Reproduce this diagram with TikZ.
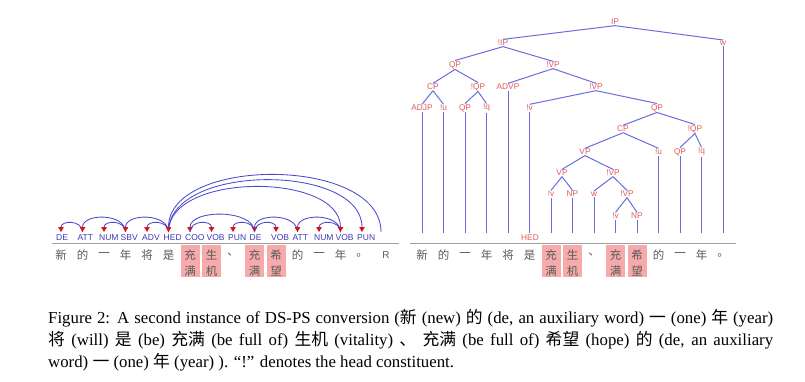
\documentclass[tikz,border=0pt]{standalone}
\usepackage{fontspec}
\setmainfont{Liberation Serif}
\newfontfamily\labfont{Liberation Sans}
\newfontfamily\cjk{Noto Sans CJK SC}
\usetikzlibrary{arrows.meta}
\definecolor{arcblue}{HTML}{4A4ACF}
\definecolor{labblue}{HTML}{3A3AB0}
\definecolor{tipred}{HTML}{E01010}
\definecolor{treered}{HTML}{E05A5A}
\definecolor{treeblue}{HTML}{6B6BE0}
\definecolor{pinkbg}{HTML}{F6AAAA}
\definecolor{wordgray}{HTML}{5A5A5A}
\definecolor{basegray}{HTML}{A0A0A0}
\begin{document}
\begin{tikzpicture}[x=1pt,y=-1pt,
  dlab/.style={font=\labfont\fontsize{8.5}{9}\selectfont, text=labblue, inner sep=0pt, anchor=west},
  tlab/.style={font=\labfont\fontsize{8.3}{9}\selectfont, text=treered, inner sep=0.6pt},
  word/.style={font=\cjk\fontsize{11.5}{11.5}\selectfont, text=wordgray, inner sep=0pt},
  darc/.style={draw=arcblue, line width=0.85pt, -{Triangle[width=5.5pt,length=5pt,color=tipred]}},
  tline/.style={draw=treeblue, line width=1pt},
  baseline/.style={draw=basegray, line width=0.7pt},
  capline/.style={anchor=base west, inner sep=0pt, font=\fontsize{16.8}{20}\selectfont},
]
\useasboundingbox (0,0) rectangle (805,382);

% ---------- left: dependency structure ----------
\draw[baseline] (52,243) -- (399,243);
\foreach \i/\c in {1/新,2/的,3/一,4/年,5/将,6/是,9/、,12/的,13/一,14/年,15/。}
  \node[word] (lw\i) at ({61+21.5*(\i-1)},255) {\c};
\foreach \i/\a/\b in {7/充/满,8/生/机,10/充/满,11/希/望}{
  \fill[pinkbg] ({61+21.5*(\i-1)-9.5},245) rectangle ++(19,32);
  \node[word] (lw\i) at ({61+21.5*(\i-1)},255) {\a};
  \node[word] (lwb\i) at ({61+21.5*(\i-1)},271) {\b};
}
\node[word, font=\labfont\fontsize{10}{10}\selectfont] (lw16) at (386,255) {R};

\foreach \i/\t in {1/DE,2/ATT,3/NUM,4/SBV,5/ADV,6/HED,7/COO,8/VOB,9/PUN,10/DE,11/VOB,12/ATT,13/NUM,14/VOB,15/PUN}
  \node[dlab] (dl\i) at ({61+21.5*(\i-1)-5},237.5) {\t};
\foreach \i in {1,...,16}
  \coordinate (a\i) at ({61+21.5*(\i-1)},232);
\coordinate (a16) at (381,232);

\foreach \h/\d/\k in {2/1/12,4/2/19,4/3/12,6/4/19,6/5/12,10/7/23,7/8/12,10/9/12,12/10/19,10/11/12,14/12/19,14/13/12,6/14/60,6/15/69,16/6/76}
  \draw[darc] (a\h) .. controls +(0,-\k) and +(0,-\k) .. (a\d);

% ---------- right: phrase structure ----------
\draw[baseline] (410,243) -- (736,243);
\foreach \i/\c in {1/新,2/的,3/一,4/年,5/将,6/是,9/、,12/的,13/一,14/年,15/。}
  \node[word] (rw\i) at ({422+21.5*(\i-1)},255) {\c};
\foreach \i/\a/\b in {7/充/满,8/生/机,10/充/满,11/希/望}{
  \fill[pinkbg] ({422+21.5*(\i-1)-9.5},245) rectangle ++(19,32);
  \node[word] (rw\i) at ({422+21.5*(\i-1)},255) {\a};
  \node[word] (rwb\i) at ({422+21.5*(\i-1)},271) {\b};
}

\node[tlab] (IP)   at (615,22)  {IP};
\node[tlab] (w1)   at (723,43)  {w};
\node[tlab] (bIP)  at (503,43)  {!IP};
\node[tlab] (QPa)  at (455,65)  {QP};
\node[tlab] (bVPa) at (553,65)  {!VP};
\node[tlab] (CPa)  at (433,87)  {CP};
\node[tlab] (bQPa) at (478,87)  {!QP};
\node[tlab] (ADVP) at (508,87)  {ADVP};
\node[tlab] (bVPb) at (596,87)  {!VP};
\node[tlab] (ADJP) at (422,108) {ADJP};
\node[tlab] (bua)  at (443.5,108) {!u};
\node[tlab] (QPb)  at (465,108) {QP};
\node[tlab] (bqa)  at (486.5,108) {!q};
\node[tlab] (bva)  at (529.5,108) {!v};
\node[tlab] (QPc)  at (657,108) {QP};
\node[tlab] (CPb)  at (623,129) {CP};
\node[tlab] (bQPb) at (695,129) {!QP};
\node[tlab] (VPa)  at (585,152) {VP};
\node[tlab] (bub)  at (658.5,152) {!u};
\node[tlab] (QPd)  at (680,152) {QP};
\node[tlab] (bqb)  at (701.5,152) {!q};
\node[tlab] (VPb)  at (562,173) {VP};
\node[tlab] (bVPc) at (613,173) {!VP};
\node[tlab] (bvb)  at (551,194) {!v};
\node[tlab] (NPa)  at (572.5,194) {NP};
\node[tlab] (w2)   at (594,194) {w};
\node[tlab] (bVPd) at (627,194) {!VP};
\node[tlab] (bvc)  at (615.5,216) {!v};
\node[tlab] (NPb)  at (637,216) {NP};
\node[tlab] (HED)  at (530,237.5) {HED};

\foreach \p/\c in {IP/bIP,IP/w1,bIP/QPa,bIP/bVPa,QPa/CPa,QPa/bQPa,CPa/ADJP,CPa/bua,bQPa/QPb,bQPa/bqa,bVPa/ADVP,bVPa/bVPb,bVPb/bva,bVPb/QPc,QPc/CPb,QPc/bQPb,CPb/VPa,CPb/bub,bQPb/QPd,bQPb/bqb,VPa/VPb,VPa/bVPc,VPb/bvb,VPb/NPa,bVPc/w2,bVPc/bVPd,bVPd/bvc,bVPd/NPb}
  \draw[tline] (\p.south) -- (\c.north);

\coordinate (rb) at (0,233);
\foreach \l in {ADJP,bua,QPb,bqa,ADVP,bva,bvb,NPa,w2,bvc,NPb,bub,QPd,bqb,w1}
  \draw[tline] (\l.south) -- (\l.south |- rb);

% ---------- caption ----------
\node[capline] (cap1) at (48,323) {\makebox[725pt][s]{Figure 2: A second instance of DS-PS conversion ({\cjk 新} (new) {\cjk 的} (de, an auxiliary word) {\cjk 一} (one) {\cjk 年} (year)}};
\node[capline] (cap2) at (48,345) {\makebox[725pt][s]{{\cjk 将} (will) {\cjk 是} (be) {\cjk 充满} (be full of) {\cjk 生机} (vitality) {\cjk 、} {\cjk 充满} (be full of) {\cjk 希望} (hope) {\cjk 的} (de, an auxiliary}};
\node[capline] (cap3) at (48,367) {word) {\cjk 一} (one) {\cjk 年} (year) ). “!” denotes the head constituent.};
\end{tikzpicture}
\end{document}
